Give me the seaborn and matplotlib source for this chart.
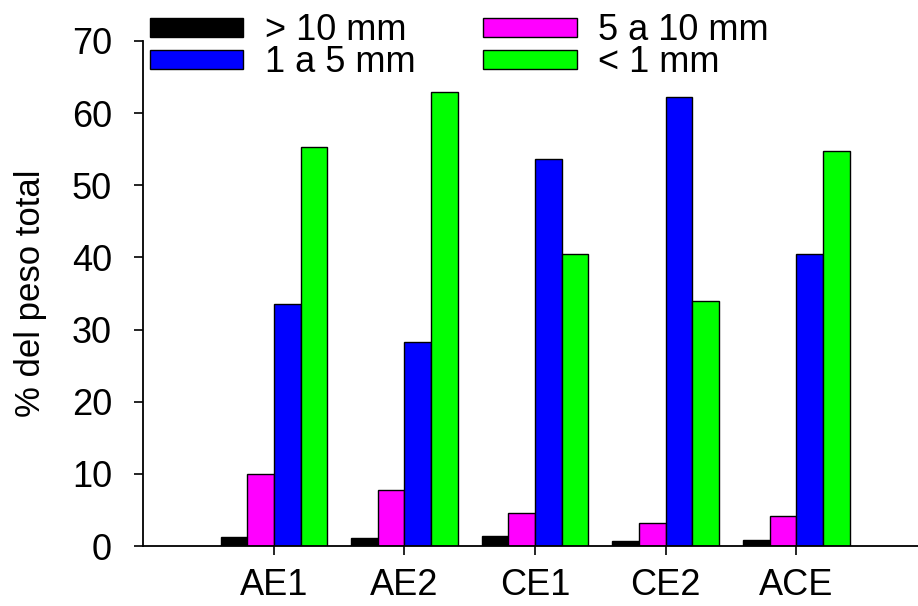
import matplotlib
matplotlib.use("Agg")
import matplotlib.pyplot as plt
from matplotlib.patches import Patch
import pandas as pd
import seaborn as sns

# Sampling sites and particle-size fractions
sitios = ["AE1", "AE2", "CE1", "CE2", "ACE"]
fracciones = ["> 10 mm", "5 a 10 mm", "1 a 5 mm", "< 1 mm"]
colores = ["#000000", "#FF00FF", "#0000FF", "#00FF00"]

# Percentage of total weight per fraction at each site
mayor_10 = [1.3, 1.1, 1.4, 0.7, 0.9]
de_5_a_10 = [10.0, 7.7, 4.6, 3.2, 4.1]
de_1_a_5 = [33.5, 28.3, 53.7, 62.3, 40.5]
menor_1 = [55.3, 63.0, 40.5, 33.9, 54.8]

y_ticks = [0, 10, 20, 30, 40, 50, 60, 70]

valores = [mayor_10, de_5_a_10, de_1_a_5, menor_1]
df = pd.DataFrame(
    [(s, f, v[i]) for f, v in zip(fracciones, valores) for i, s in enumerate(sitios)],
    columns=["sitio", "fraccion", "pct"],
)

sns.set_theme(style="white")
plt.rcParams["font.family"] = ["Liberation Sans", "DejaVu Sans"]
plt.rcParams["text.color"] = "black"
plt.rcParams["axes.labelcolor"] = "black"

fig = plt.figure(figsize=(9.18, 6.06), dpi=100)
W, H = 918, 606
x0, y0, y1 = 143.3, 546, 41
unit = 130.6
ax = fig.add_axes([x0 / W, 1 - y0 / H, 6 * unit / W, (y0 - y1) / H])

sns.barplot(
    data=df, x="sitio", y="pct", hue="fraccion",
    hue_order=fracciones, order=sitios, palette=colores,
    width=0.817, edgecolor="black", linewidth=1.0,
    saturation=1, legend=False, ax=ax,
)

ax.set_xlim(-1, 5)
ax.set_ylim(0, 70)
ax.set_yticks(y_ticks)
ax.set_xlabel("")
ax.set_ylabel("% del peso total", fontsize=25, labelpad=18)
ax.tick_params(axis="both", labelsize=26, direction="out", length=6.5,
               width=1.2, color="black", labelcolor="black",
               bottom=True, left=True)
ax.tick_params(axis="y", pad=16)
ax.tick_params(axis="x", pad=9)

for side in ["top", "right"]:
    ax.spines[side].set_visible(False)
for side in ["left", "bottom"]:
    ax.spines[side].set_color("black")
    ax.spines[side].set_linewidth(1.3)

handles = [
    Patch(facecolor=colores[0], edgecolor="black", linewidth=1.0, label=fracciones[0]),
    Patch(facecolor=colores[2], edgecolor="black", linewidth=1.0, label=fracciones[2]),
    Patch(facecolor=colores[1], edgecolor="black", linewidth=1.0, label=fracciones[1]),
    Patch(facecolor=colores[3], edgecolor="black", linewidth=1.0, label=fracciones[3]),
]
fig.legend(
    handles=handles, ncol=2, loc="upper left",
    bbox_to_anchor=(150 / W, 1 - 13 / H), frameon=False,
    fontsize=26, handlelength=2.58, handleheight=0.44,
    handletextpad=0.6, labelspacing=-0.08, columnspacing=1.88,
    borderpad=0, borderaxespad=0,
)

fig.savefig("out.png", dpi=100)
